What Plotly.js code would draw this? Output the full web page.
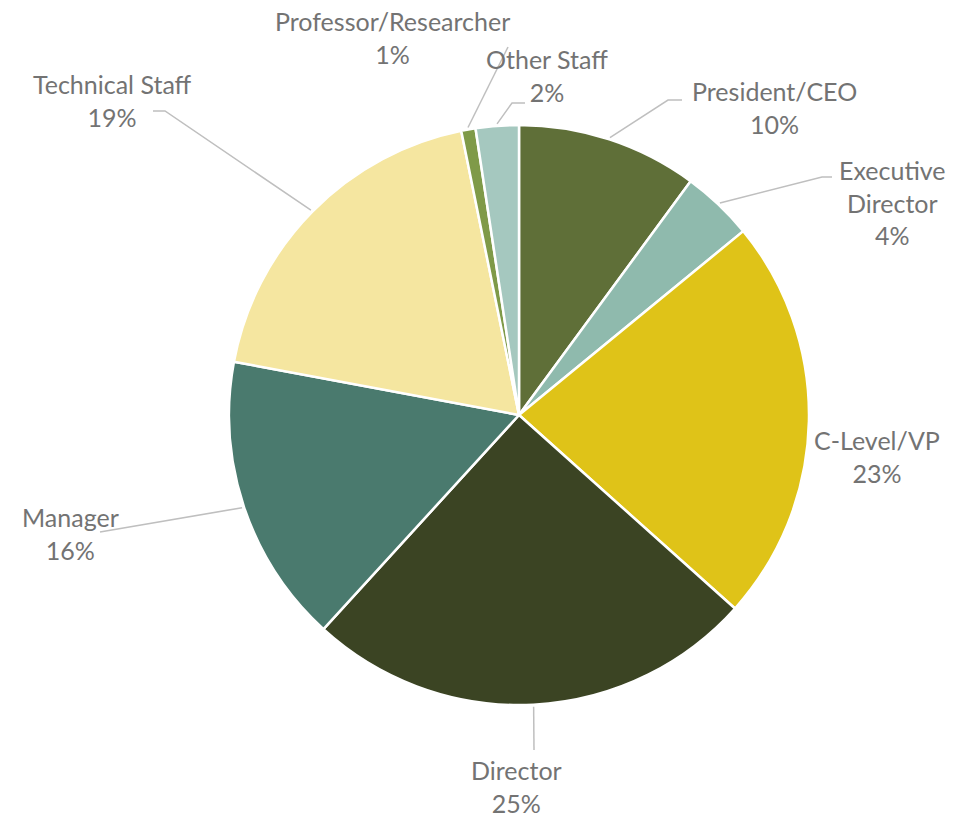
<!DOCTYPE html>
<html>
<head>
<meta charset="utf-8">
<script src="https://cdn.plot.ly/plotly-3.0.1.min.js"></script>
<style>html,body{margin:0;padding:0;background:#fff;}#chart{width:975px;height:821px;}</style>
</head>
<body>
<div id="chart"></div>
<script>
// ---- data ----
var categories = ["President/CEO", "Executive Director", "C-Level/VP", "Director", "Manager", "Technical Staff", "Professor/Researcher", "Other Staff"];
var labelText = ["President/CEO", "Executive<br>Director", "C-Level/VP", "Director", "Manager", "Technical Staff", "Professor/Researcher", "Other Staff"];
var values = [10.1, 4.0, 22.6, 25.2, 16.2, 18.9, 0.8, 2.4];
var colors = ["#5f6f38", "#8fbaad", "#dfc318", "#3b4423", "#4a7a6e", "#f5e6a0", "#7f9a48", "#a5c8bf"];

// ---- layout (pixels) ----
var W = 975, H = 821;
var cx = 519, cy = 415, R = 290;
// label block centres
var labelPos = [[774, 107], [892, 202], [877, 457], [516, 786], [70, 533], [112, 101], [392, 37], [547, 76]];
// leader line extra points after the slice anchor (null = no leader)
var leaderPts = [
  [[668, 100], [682, 100]],
  [[822, 177], [832, 177]],
  null,
  [[534, 750]],
  [[100, 532]],
  [[165, 111], [153, 111]],
  [[508, 47]],
  [[512, 103], [525, 103]]
];

function px(x) { return x / W; }
function py(y) { return 1 - y / H; }

var total = values.reduce(function (a, b) { return a + b; }, 0);
var annotations = [], shapes = [];
var cum = 0;
for (var i = 0; i < values.length; i++) {
  var mid = (cum + values[i] / 2) / total * 2 * Math.PI;
  cum += values[i];
  var pct = Math.round(values[i] / total * 100) + "%";
  annotations.push({
    x: px(labelPos[i][0]), y: py(labelPos[i][1]), xref: "paper", yref: "paper",
    xanchor: "center", yanchor: "middle", align: "center", showarrow: false,
    text: labelText[i] + "<br>" + pct,
    font: {family: "Lato, 'Open Sans', sans-serif", size: 25, color: "#737373"}
  });
  if (leaderPts[i]) {
    var ax = cx + (R + 2) * Math.sin(mid), ay = cy - (R + 2) * Math.cos(mid);
    var path = "M " + px(ax) + "," + py(ay);
    leaderPts[i].forEach(function (p) { path += " L " + px(p[0]) + "," + py(p[1]); });
    shapes.push({type: "path", xref: "paper", yref: "paper", path: path,
      line: {color: "#bfbfbf", width: 1.5}});
  }
}

var trace = {
  type: "pie",
  labels: categories,
  values: values,
  sort: false,
  direction: "clockwise",
  rotation: 0,
  textinfo: "none",
  hoverinfo: "label+percent",
  marker: {colors: colors, line: {color: "#ffffff", width: 2.5}},
  domain: {x: [px(cx - R), px(cx + R)], y: [py(cy + R), py(cy - R)]},
  showlegend: false
};

var layout = {
  width: W, height: H,
  margin: {l: 0, r: 0, t: 0, b: 0},
  paper_bgcolor: "#ffffff",
  showlegend: false,
  annotations: annotations,
  shapes: shapes
};

Plotly.newPlot("chart", [trace], layout, {displayModeBar: false, staticPlot: true});
</script>
</body>
</html>
